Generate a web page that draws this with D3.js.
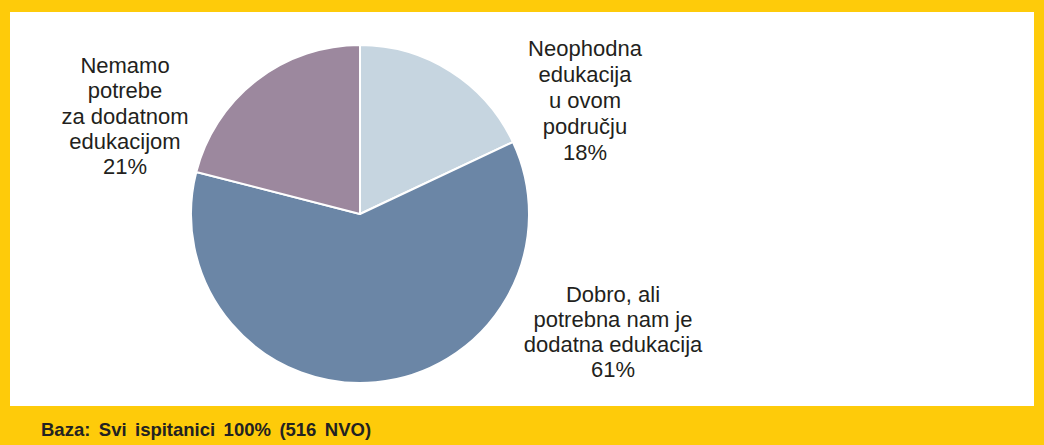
<!DOCTYPE html>
<html>
<head>
<meta charset="utf-8">
<script src="https://cdn.jsdelivr.net/npm/d3@7"></script>
<style>
  html, body { margin: 0; padding: 0; background: #fff; }
  svg { display: block; }
</style>
</head>
<body>
<svg id="chart" width="1044" height="445"></svg>
<script>
// data
var categories = [
    ["Neophodna", "edukacija", "u ovom", "području"],
    ["Dobro, ali", "potrebna nam je", "dodatna edukacija"],
    ["Nemamo", "potrebe", "za dodatnom", "edukacijom"]
];
var values = [18, 61, 21];
var colors = ["#c6d5e0", "#6b86a6", "#9c889e"];
var footnote = "Baza: Svi ispitanici 100% (516 NVO)";

var W = 1044, H = 445;
var svg = d3.select("#chart");

// yellow frame
svg.append("rect").attr("x", 0).attr("y", 0).attr("width", W).attr("height", H).attr("fill", "#fecb0a");
svg.append("rect").attr("x", 10).attr("y", 12).attr("width", 1024).attr("height", 394).attr("fill", "#fff");

svg.append("text")
    .attr("x", 41).attr("y", 436)
    .attr("font-family", "Liberation Sans, Arial, sans-serif")
    .attr("font-size", 18.5).attr("font-weight", "bold")
    .attr("fill", "#222")
    .attr("word-spacing", 3.3)
    .text(footnote);

var cx = 360, cy = 214, r = 169;

var pie = d3.pie().sort(null).value(function(d) { return d; });
var arc = d3.arc().innerRadius(0).outerRadius(r);

var g = svg.append("g").attr("transform", "translate(" + cx + "," + cy + ")");
g.selectAll("path")
    .data(pie(values))
    .enter().append("path")
    .attr("d", arc)
    .attr("fill", function(d, i) { return colors[i]; })
    .attr("stroke", "#fff")
    .attr("stroke-width", 2)
    .attr("stroke-linejoin", "round");

// label anchors (centre x, first baseline y), layout only
var labelPos = [[585, 56], [613, 302], [125, 73]];
var lineH = [26, 25, 25.3];

categories.forEach(function(lines, i) {
    var t = svg.append("text")
        .attr("text-anchor", "middle")
        .attr("font-family", "Liberation Sans, Arial, sans-serif")
        .attr("font-size", 22)
        .attr("fill", "#231f20");
    lines.concat([values[i] + "%"]).forEach(function(s, k) {
        t.append("tspan")
            .attr("x", labelPos[i][0])
            .attr("y", labelPos[i][1] + k * lineH[i])
            .text(s);
    });
});
</script>
</body>
</html>
